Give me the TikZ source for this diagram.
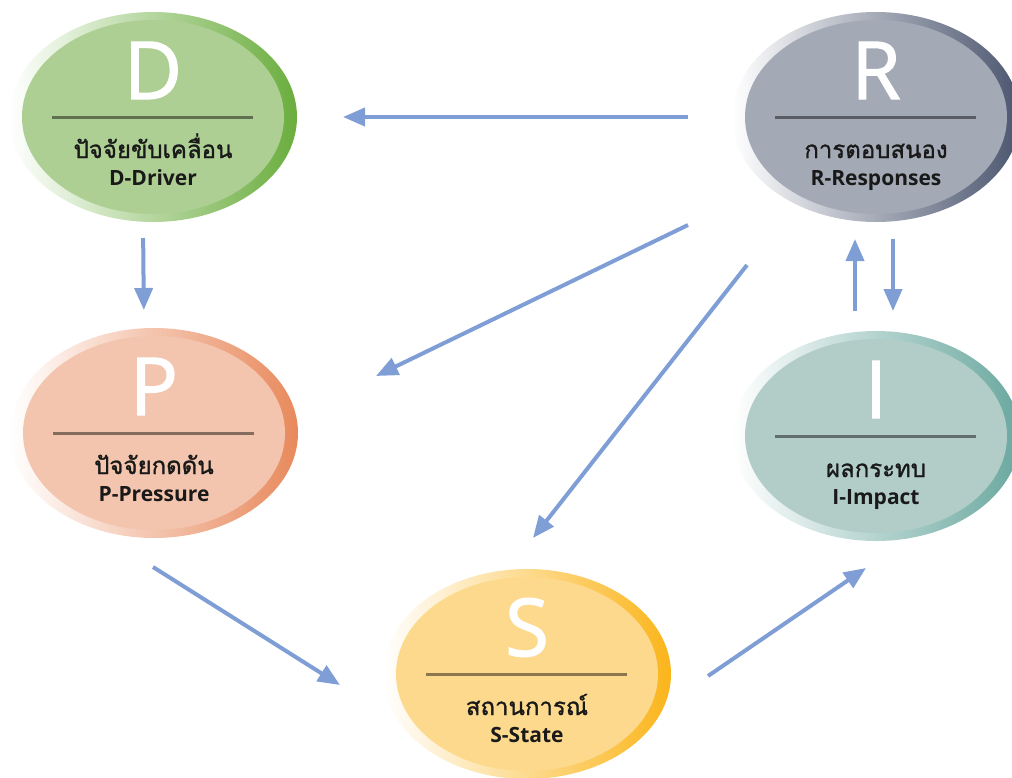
\documentclass[tikz,border=0pt]{standalone}
\usepackage{fontspec}
\setmainfont{Open Sans}
\newfontfamily\thaifont[Script=Thai, FakeBold=1.2]{Loma}
\newfontfamily\letterfont[FakeBold=1.5]{Open Sans}
\usetikzlibrary{shapes.geometric,arrows.meta}

\definecolor{flowblue}{HTML}{7F9ED6}
\definecolor{dout}{HTML}{6AAD3D}
\definecolor{din}{HTML}{AECF94}
\definecolor{pout}{HTML}{E8895C}
\definecolor{pin}{HTML}{F4C5AE}
\definecolor{sout}{HTML}{FBB51B}
\definecolor{sin}{HTML}{FDD98E}
\definecolor{iout}{HTML}{6AA89F}
\definecolor{iin}{HTML}{B2CCC8}
\definecolor{rout}{HTML}{4B566F}
\definecolor{rin}{HTML}{A3A9B5}

\tikzset{
  rim/.style={ellipse, minimum width=288pt, minimum height=210pt,
    inner sep=0pt, outer sep=0pt, left color=white, right color=#1},
  face/.style={ellipse, minimum width=262pt, minimum height=194pt,
    inner sep=0pt, outer sep=0pt, fill=#1},
  sepline/.style={draw=black, draw opacity=0.45, line width=3pt},
  bigletter/.style={text=white, anchor=base, inner sep=0pt,
    font=\letterfont\fontsize{80}{80}\selectfont},
  thlabel/.style={text=black!90, anchor=base, inner sep=0pt,
    font=\thaifont\fontsize{24}{26}\selectfont},
  enlabel/.style={text=black!90, anchor=base, inner sep=0pt,
    font=\bfseries\fontsize{21}{24}\selectfont},
  flow/.style={draw=flowblue, line width=4pt,
    -{Triangle[length=22pt,width=18pt]}}
}

\begin{document}
\begin{tikzpicture}[x=1pt, y=-1pt]
  \useasboundingbox (0,0) rectangle (1012,777);

  % the five phases
  \foreach \n/\x/\y/\ini/\tname/\en/\co/\ci in {
      D/153/117/D/ปัจจัยขับเคลื่อน/D-Driver/dout/din,
      P/154/433/P/ปัจจัยกดดัน/P-Pressure/pout/pin,
      S/527/674/S/สถานการณ์/S-State/sout/sin,
      I/876/436/I/ผลกระทบ/I-Impact/iout/iin,
      R/876/117/R/การตอบสนอง/R-Responses/rout/rin}
  {
    \node[rim=\co] (\n) at (\x,\y) {};
    \node[face=\ci] (\n-face) at (\n.center) {};
    \draw[sepline] ([xshift=-101pt]\n.center) -- ([xshift=100pt]\n.center);
    \node[bigletter] (\n-ini) at ([yshift=18pt]\n.center) {\ini};
    \node[thlabel] (\n-th) at ([yshift=-41pt]\n.center) {\tname};
    \node[enlabel] (\n-en) at ([yshift=-68pt]\n.center) {\en};
  }

  % straight links
  \draw[flow, shorten <=44pt, shorten >=46pt] (R.west) -- (D.east);
  \draw[flow, shorten <=16pt, shorten >=18pt]
    ([xshift=-10pt]D.south) -- ([xshift=-10pt]P.north);
  \draw[flow, shorten <=20pt, shorten >=17pt]
    ([xshift=-21pt]I.north) -- ([xshift=-21pt]R.south);
  \draw[flow, shorten <=17pt, shorten >=20pt]
    ([xshift=17pt]R.south) -- ([xshift=17pt]I.north);

  % diagonal links
  \draw[flow] ([shift={(-188,108)}]R.center) -- ([shift={(222,-57)}]P.center);
  \draw[flow] ([shift={(-129,148)}]R.center) -- ([shift={(6,-136)}]S.center);
  \draw[flow] ([shift={(-1,134)}]P.center) -- ([shift={(-187,11)}]S.center);
  \draw[flow] ([shift={(181,2)}]S.center) -- ([shift={(-10,132)}]I.center);
\end{tikzpicture}
\end{document}
